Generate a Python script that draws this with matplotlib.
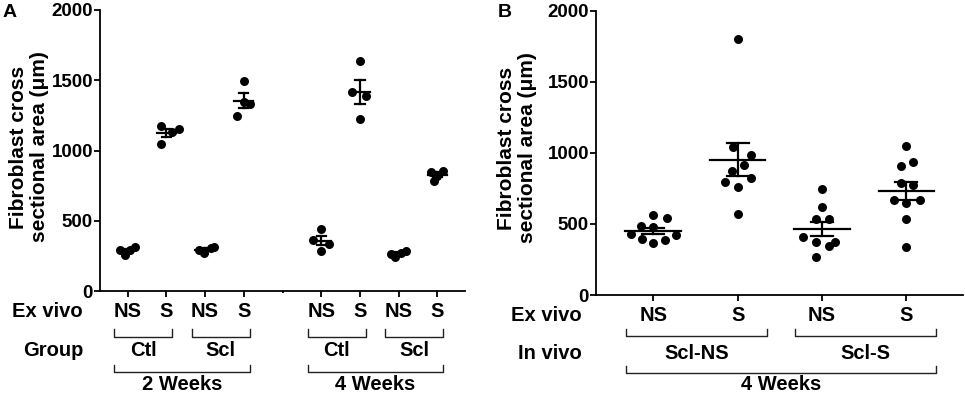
#!/usr/bin/python

"""
Fibroblast cross sectional area, panels A and B
"""
import numpy as np
import matplotlib
matplotlib.use('Agg')
import matplotlib.pyplot as plt
from matplotlib import transforms

# ---- panel A data (4 animals per group) ----
ex_vivo_a = ['NS', 'S', 'NS', 'S', 'NS', 'S', 'NS', 'S']
group_a = ['Ctl', 'Scl', 'Ctl', 'Scl']
weeks_a = ['2 Weeks', '4 Weeks']
wk2_ctl_ns = [292, 256, 292, 315]
wk2_ctl_s = [1175, 1047, 1134, 1153]
wk2_scl_ns = [292, 268, 304, 315]
wk2_scl_s = [1495, 1246, 1348, 1329]
wk4_ctl_ns = [441, 362, 287, 335]
wk4_ctl_s = [1640, 1419, 1388, 1225]
wk4_scl_ns = [263, 240, 268, 287]
wk4_scl_s = [849, 785, 819, 857]

# ---- panel B data ----
ex_vivo_b = ['NS', 'S', 'NS', 'S']
in_vivo_b = ['Scl-NS', 'Scl-S']
weeks_b = ['4 Weeks']
sclns_ns = [563, 540, 486, 477, 427, 423, 392, 387, 364]
sclns_s = [1800, 1045, 986, 915, 876, 822, 794, 763, 568]
scls_ns = [744, 622, 533, 533, 406, 371, 371, 345, 270]
scls_s = [1049, 939, 911, 786, 775, 669, 650, 669, 535, 340]

# horizontal scatter offsets (category units)
jit_a = [
    [-0.2, -0.07, 0.06, 0.19],
    [-0.15, -0.15, 0.15, 0.33],
    [-0.15, -0.04, 0.15, 0.23],
    [0.0, -0.17, 0.0, 0.17],
    [0.0, -0.2, 0.0, 0.19],
    [0.0, -0.2, 0.17, 0.0],
    [-0.2, -0.08, 0.05, 0.18],
    [-0.15, -0.09, 0.0, 0.15],
]
jit_b = [
    [0, 0.16, -0.14, 0, -0.26, 0.27, -0.13, 0.14, 0],
    [0, -0.06, 0.16, 0.08, -0.07, 0.16, -0.15, 0.01, 0.01],
    [0, 0, -0.075, 0.08, -0.22, -0.075, 0.15, 0.08, -0.075],
    [0, 0.08, -0.07, -0.07, 0.08, -0.15, 0, 0.16, 0, 0],
]

W, H = 965, 394
BOLD = dict(fontweight='bold', color='black')
YLABEL = 'Fibroblast cross\nsectional area (\u03bcm)'


def fy(ypx):
    return 1 - ypx / H


def fx(xpx):
    return xpx / W


def scatter_groups(ax, pos, groups, jitter, mean_w, cap_w):
    for x, vals, jit in zip(pos, groups, jitter):
        vals = np.array(vals, dtype=float)
        ax.scatter(x + np.array(jit), vals, s=42, color='black', zorder=2,
                   clip_on=False, linewidths=0)
        m = vals.mean()
        sem = vals.std(ddof=1) / np.sqrt(len(vals))
        ax.plot([x - mean_w, x + mean_w], [m, m], color='black', lw=1.6, zorder=3)
        ax.plot([x, x], [m - sem, m + sem], color='black', lw=1.6, zorder=3)
        for yy in (m - sem, m + sem):
            ax.plot([x - cap_w, x + cap_w], [yy, yy], color='black', lw=1.6, zorder=3)


def style_axis(ax, xlim, pos):
    ax.set_xlim(*xlim)
    ax.set_ylim(0, 2000)
    ax.set_yticks([0, 500, 1000, 1500, 2000])
    ax.set_xticks(pos)
    ax.set_xticklabels([])
    for s in ('top', 'right'):
        ax.spines[s].set_visible(False)
    for s in ('left', 'bottom'):
        ax.spines[s].set_linewidth(1.3)
    ax.tick_params(axis='y', length=4, width=1.3, pad=1, labelsize=13.5)
    ax.tick_params(axis='x', length=4, width=1.3)
    for lab in ax.get_yticklabels():
        lab.set_fontweight('bold')


def bracket(fig, trans, x0, x1, ytop, ybot):
    fig.add_artist(plt.Line2D([x0, x0, x1, x1], [fy(ytop), fy(ybot), fy(ybot), fy(ytop)],
                              transform=trans, color='#222222', lw=1.0, clip_on=False))


def main():
    plt.rcParams['font.family'] = ['Liberation Sans', 'DejaVu Sans']
    fig = plt.figure(figsize=(W / 100, H / 100), dpi=100)

    # ---------------- panel A ----------------
    axa = fig.add_axes([fx(100), fy(291), fx(365), 281 / H])
    pos_a = [1, 2, 3, 4, 6, 7, 8, 9]
    groups_a = [wk2_ctl_ns, wk2_ctl_s, wk2_scl_ns, wk2_scl_s,
                wk4_ctl_ns, wk4_ctl_s, wk4_scl_ns, wk4_scl_s]
    scatter_groups(axa, pos_a, groups_a, jit_a, 0.25, 0.12)
    style_axis(axa, (0.284, 9.716), pos_a)
    axa.set_xticks([5], minor=True)
    axa.tick_params(axis='x', which='minor', length=1.5, width=1.3)

    ta = transforms.blended_transform_factory(axa.transData, fig.transFigure)
    for x, lab in zip(pos_a, ex_vivo_a):
        fig.text(x, fy(316.7), lab, transform=ta, ha='center', va='baseline',
                 fontsize=14.5, **BOLD)
    for i, lab in enumerate(group_a):
        x0 = pos_a[2 * i] - 0.35
        x1 = pos_a[2 * i + 1] + 0.15
        bracket(fig, ta, x0, x1, 329.3, 336.7)
        fig.text((x0 + x1) / 2, fy(356), lab, transform=ta, ha='center',
                 va='baseline', fontsize=14.5, **BOLD)
    for i, lab in enumerate(weeks_a):
        x0 = pos_a[4 * i] - 0.35
        x1 = pos_a[4 * i + 3] + 0.15
        bracket(fig, ta, x0, x1, 365, 371.7)
        fig.text((x0 + x1) / 2, fy(389.5), lab, transform=ta, ha='center',
                 va='baseline', fontsize=14.5, **BOLD)
    fig.text(fx(83), fy(316.7), 'Ex vivo', ha='right', va='baseline', fontsize=14.5, **BOLD)
    fig.text(fx(83), fy(356), 'Group', ha='right', va='baseline', fontsize=14.5, **BOLD)
    fig.text(fx(29), fy(147), YLABEL, rotation=90, ha='center', va='center',
             multialignment='center', linespacing=1.12, fontsize=15, **BOLD)
    fig.text(fx(3), fy(17), 'A', ha='left', va='baseline', fontsize=14, **BOLD)

    # ---------------- panel B ----------------
    axb = fig.add_axes([fx(596), fy(295), fx(367), 284 / H])
    pos_b = [1, 2, 3, 4]
    groups_b = [sclns_ns, sclns_s, scls_ns, scls_s]
    scatter_groups(axb, pos_b, groups_b, jit_b, 0.33, 0.13)
    style_axis(axb, (0.322, 4.67), pos_b)

    tb = transforms.blended_transform_factory(axb.transData, fig.transFigure)
    for x, lab in zip(pos_b, ex_vivo_b):
        fig.text(x, fy(320.7), lab, transform=tb, ha='center', va='baseline',
                 fontsize=14.5, **BOLD)
    for i, lab in enumerate(in_vivo_b):
        x0 = pos_b[2 * i] - 0.32
        x1 = pos_b[2 * i + 1] + 0.35
        bracket(fig, tb, x0, x1, 329.3, 336)
        fig.text((x0 + x1) / 2, fy(359.3), lab, transform=tb, ha='center',
                 va='baseline', fontsize=14.5, **BOLD)
    x0, x1 = pos_b[0] - 0.32, pos_b[-1] + 0.35
    bracket(fig, tb, x0, x1, 366, 372.7)
    fig.text((x0 + x1) / 2, fy(390.5), weeks_b[0], transform=tb, ha='center',
             va='baseline', fontsize=14.5, **BOLD)
    fig.text(fx(582), fy(320.7), 'Ex vivo', ha='right', va='baseline', fontsize=14.5, **BOLD)
    fig.text(fx(582), fy(359.3), 'In vivo', ha='right', va='baseline', fontsize=14.5, **BOLD)
    fig.text(fx(517), fy(148), YLABEL, rotation=90, ha='center', va='center',
             multialignment='center', linespacing=1.12, fontsize=15, **BOLD)
    fig.text(fx(498), fy(17), 'B', ha='left', va='baseline', fontsize=14, **BOLD)

    fig.savefig('out.png', dpi=100)


if __name__ == '__main__':
    main()
